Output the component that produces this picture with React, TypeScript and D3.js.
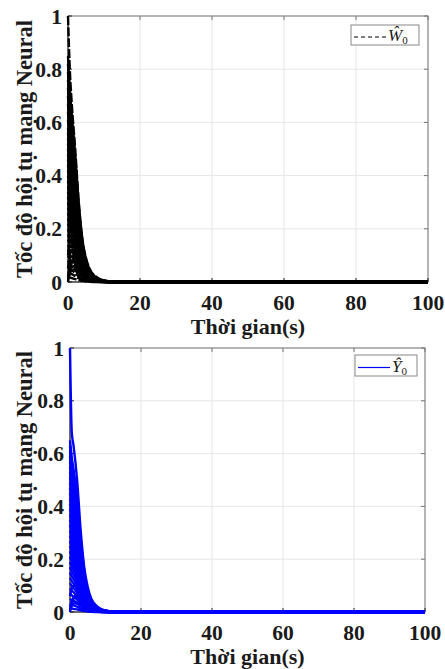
import * as d3 from "d3";

const FONT = '"Liberation Serif", "Times New Roman", serif';

const T_SAMPLES = [0, 0.5, 1, 2, 3, 4, 5, 6, 8, 10, 13, 100];
const X_TICKS = [0, 20, 40, 60, 80, 100];
const Y_TICKS = [0, 0.2, 0.4, 0.6, 0.8, 1];
const Y_TICK_LABELS = ["0", "0.2", "0.4", "0.6", "0.8", "1"];

// W0 weights, one row per neuron, sampled at T_SAMPLES
const W0_CURVES = [
  [1, 0.8, 0.68, 0.5, 0.3, 0.16, 0.09, 0.05, 0.018, 0.006, 0.001, 0],
  [0.85, 0.731, 0.638, 0.476, 0.289, 0.157, 0.085, 0.046, 0.015, 0.005, 0.001, 0],
  [0.82, 0.705, 0.615, 0.459, 0.279, 0.152, 0.082, 0.044, 0.015, 0.005, 0.001, 0],
  [0.79, 0.679, 0.593, 0.442, 0.269, 0.146, 0.079, 0.043, 0.014, 0.005, 0.001, 0],
  [0.76, 0.654, 0.57, 0.426, 0.258, 0.141, 0.076, 0.041, 0.014, 0.005, 0.001, 0],
  [0.73, 0.628, 0.548, 0.409, 0.248, 0.135, 0.073, 0.039, 0.013, 0.004, 0.001, 0],
  [0.7, 0.602, 0.525, 0.392, 0.238, 0.13, 0.07, 0.038, 0.013, 0.004, 0.001, 0],
  [0.67, 0.576, 0.503, 0.375, 0.228, 0.124, 0.067, 0.036, 0.012, 0.004, 0.001, 0],
  [0.64, 0.55, 0.48, 0.358, 0.218, 0.118, 0.064, 0.035, 0.012, 0.004, 0.001, 0],
  [0.61, 0.525, 0.458, 0.342, 0.207, 0.113, 0.061, 0.033, 0.011, 0.004, 0.001, 0],
  [0.58, 0.499, 0.435, 0.325, 0.197, 0.107, 0.058, 0.031, 0.01, 0.003, 0.001, 0],
  [0.56, 0.482, 0.42, 0.314, 0.19, 0.104, 0.056, 0.03, 0.01, 0.003, 0.001, 0],
  [0.54, 0.464, 0.405, 0.302, 0.184, 0.1, 0.054, 0.029, 0.01, 0.003, 0.001, 0],
  [0.52, 0.447, 0.39, 0.291, 0.177, 0.096, 0.052, 0.028, 0.009, 0.003, 0.001, 0],
  [0.5, 0.43, 0.375, 0.28, 0.17, 0.093, 0.05, 0.027, 0.009, 0.003, 0.001, 0],
  [0.48, 0.413, 0.36, 0.269, 0.163, 0.089, 0.048, 0.026, 0.009, 0.003, 0, 0],
  [0.46, 0.396, 0.345, 0.258, 0.156, 0.085, 0.046, 0.025, 0.008, 0.003, 0, 0],
  [0.44, 0.378, 0.33, 0.246, 0.15, 0.081, 0.044, 0.024, 0.008, 0.003, 0, 0],
  [0.42, 0.361, 0.315, 0.235, 0.143, 0.078, 0.042, 0.023, 0.008, 0.003, 0, 0],
  [0.4, 0.344, 0.3, 0.224, 0.136, 0.074, 0.04, 0.022, 0.007, 0.002, 0, 0],
  [0.38, 0.327, 0.285, 0.213, 0.129, 0.07, 0.038, 0.021, 0.007, 0.002, 0, 0],
  [0.36, 0.31, 0.27, 0.202, 0.122, 0.067, 0.036, 0.019, 0.006, 0.002, 0, 0],
  [0.34, 0.292, 0.255, 0.19, 0.116, 0.063, 0.034, 0.018, 0.006, 0.002, 0, 0],
  [0.32, 0.275, 0.24, 0.179, 0.109, 0.059, 0.032, 0.017, 0.006, 0.002, 0, 0],
  [0.3, 0.258, 0.225, 0.168, 0.102, 0.056, 0.03, 0.016, 0.005, 0.002, 0, 0],
  [0.28, 0.241, 0.21, 0.157, 0.095, 0.052, 0.028, 0.015, 0.005, 0.002, 0, 0],
  [0.26, 0.224, 0.195, 0.146, 0.088, 0.048, 0.026, 0.014, 0.005, 0.002, 0, 0],
  [0.24, 0.206, 0.18, 0.134, 0.082, 0.044, 0.024, 0.013, 0.004, 0.001, 0, 0],
  [0.22, 0.189, 0.165, 0.123, 0.075, 0.041, 0.022, 0.012, 0.004, 0.001, 0, 0],
  [0.2, 0.172, 0.15, 0.112, 0.068, 0.037, 0.02, 0.011, 0.004, 0.001, 0, 0],
  [0.18, 0.155, 0.135, 0.101, 0.061, 0.033, 0.018, 0.01, 0.003, 0.001, 0, 0],
  [0.16, 0.138, 0.12, 0.09, 0.054, 0.03, 0.016, 0.009, 0.003, 0.001, 0, 0],
  [0.14, 0.12, 0.105, 0.078, 0.048, 0.026, 0.014, 0.008, 0.003, 0.001, 0, 0],
  [0.12, 0.103, 0.09, 0.067, 0.041, 0.022, 0.012, 0.006, 0.002, 0.001, 0, 0],
  [0.1, 0.086, 0.075, 0.056, 0.034, 0.019, 0.01, 0.005, 0.002, 0.001, 0, 0],
  [0.08, 0.069, 0.06, 0.045, 0.027, 0.015, 0.008, 0.004, 0.001, 0, 0, 0],
  [0.06, 0.052, 0.045, 0.034, 0.02, 0.011, 0.006, 0.003, 0.001, 0, 0, 0],
  [0.04, 0.034, 0.03, 0.022, 0.014, 0.007, 0.004, 0.002, 0.001, 0, 0, 0],
  [0.02, 0.017, 0.015, 0.011, 0.007, 0.004, 0.002, 0.001, 0, 0, 0, 0],
  [0.02, 0.06, 0.08, 0.08, 0.055, 0.033, 0.018, 0.01, 0.003, 0.001, 0, 0],
  [0.1, 0.15, 0.16, 0.13, 0.085, 0.05, 0.028, 0.015, 0.005, 0.001, 0, 0],
  [0.05, 0.1, 0.12, 0.1, 0.065, 0.038, 0.021, 0.011, 0.004, 0.001, 0, 0],
  [0.01, 0.03, 0.045, 0.048, 0.036, 0.022, 0.013, 0.007, 0.002, 0, 0, 0],
  [0, 0.04, 0.07, 0.095, 0.075, 0.048, 0.027, 0.015, 0.005, 0.001, 0, 0],
];

// Y0 outputs
const Y0_CURVES = [
  [1, 0.68, 0.63, 0.5, 0.31, 0.17, 0.095, 0.05, 0.017, 0.005, 0.001, 0],
  [0.65, 0.585, 0.54, 0.436, 0.28, 0.156, 0.081, 0.044, 0.014, 0.005, 0.001, 0],
  [0.63, 0.567, 0.523, 0.422, 0.271, 0.151, 0.079, 0.042, 0.014, 0.004, 0.001, 0],
  [0.61, 0.549, 0.506, 0.409, 0.262, 0.146, 0.076, 0.041, 0.013, 0.004, 0.001, 0],
  [0.59, 0.531, 0.49, 0.395, 0.254, 0.142, 0.074, 0.04, 0.013, 0.004, 0.001, 0],
  [0.57, 0.513, 0.473, 0.382, 0.245, 0.137, 0.071, 0.038, 0.013, 0.004, 0.001, 0],
  [0.55, 0.495, 0.457, 0.369, 0.237, 0.132, 0.069, 0.037, 0.012, 0.004, 0.001, 0],
  [0.53, 0.477, 0.44, 0.355, 0.228, 0.127, 0.066, 0.036, 0.012, 0.004, 0.001, 0],
  [0.51, 0.459, 0.423, 0.342, 0.219, 0.122, 0.064, 0.034, 0.011, 0.004, 0.001, 0],
  [0.49, 0.441, 0.407, 0.328, 0.211, 0.118, 0.061, 0.033, 0.011, 0.003, 0.001, 0],
  [0.47, 0.423, 0.39, 0.315, 0.202, 0.113, 0.059, 0.031, 0.01, 0.003, 0.001, 0],
  [0.45, 0.405, 0.374, 0.302, 0.194, 0.108, 0.056, 0.03, 0.01, 0.003, 0.001, 0],
  [0.43, 0.387, 0.357, 0.288, 0.185, 0.103, 0.054, 0.029, 0.009, 0.003, 0.001, 0],
  [0.41, 0.369, 0.34, 0.275, 0.176, 0.098, 0.051, 0.027, 0.009, 0.003, 0.001, 0],
  [0.39, 0.351, 0.324, 0.261, 0.168, 0.094, 0.049, 0.026, 0.009, 0.003, 0.001, 0],
  [0.37, 0.333, 0.307, 0.248, 0.159, 0.089, 0.046, 0.025, 0.008, 0.003, 0.001, 0],
  [0.35, 0.315, 0.291, 0.235, 0.151, 0.084, 0.044, 0.023, 0.008, 0.002, 0.001, 0],
  [0.33, 0.297, 0.274, 0.221, 0.142, 0.079, 0.041, 0.022, 0.007, 0.002, 0, 0],
  [0.31, 0.279, 0.257, 0.208, 0.133, 0.074, 0.039, 0.021, 0.007, 0.002, 0, 0],
  [0.29, 0.261, 0.241, 0.194, 0.125, 0.07, 0.036, 0.019, 0.006, 0.002, 0, 0],
  [0.27, 0.243, 0.224, 0.181, 0.116, 0.065, 0.034, 0.018, 0.006, 0.002, 0, 0],
  [0.25, 0.225, 0.208, 0.168, 0.108, 0.06, 0.031, 0.017, 0.006, 0.002, 0, 0],
  [0.23, 0.207, 0.191, 0.154, 0.099, 0.055, 0.029, 0.015, 0.005, 0.002, 0, 0],
  [0.21, 0.189, 0.174, 0.141, 0.09, 0.05, 0.026, 0.014, 0.005, 0.001, 0, 0],
  [0.19, 0.171, 0.158, 0.127, 0.082, 0.046, 0.024, 0.013, 0.004, 0.001, 0, 0],
  [0.17, 0.153, 0.141, 0.114, 0.073, 0.041, 0.021, 0.011, 0.004, 0.001, 0, 0],
  [0.15, 0.135, 0.125, 0.101, 0.065, 0.036, 0.019, 0.01, 0.003, 0.001, 0, 0],
  [0.13, 0.117, 0.108, 0.087, 0.056, 0.031, 0.016, 0.009, 0.003, 0.001, 0, 0],
  [0.11, 0.099, 0.091, 0.074, 0.047, 0.026, 0.014, 0.007, 0.002, 0.001, 0, 0],
  [0.09, 0.081, 0.075, 0.06, 0.039, 0.022, 0.011, 0.006, 0.002, 0.001, 0, 0],
  [0.07, 0.063, 0.058, 0.047, 0.03, 0.017, 0.009, 0.005, 0.002, 0, 0, 0],
  [0.05, 0.045, 0.042, 0.034, 0.022, 0.012, 0.006, 0.003, 0.001, 0, 0, 0],
  [0.03, 0.027, 0.025, 0.02, 0.013, 0.007, 0.004, 0.002, 0.001, 0, 0, 0],
  [0.015, 0.014, 0.012, 0.01, 0.006, 0.004, 0.002, 0.001, 0, 0, 0, 0],
  [0.02, 0.04, 0.055, 0.058, 0.042, 0.025, 0.014, 0.007, 0.002, 0, 0, 0],
  [0.06, 0.09, 0.1, 0.09, 0.06, 0.035, 0.019, 0.01, 0.003, 0.001, 0, 0],
  [0.01, 0.025, 0.032, 0.032, 0.024, 0.015, 0.008, 0.004, 0.001, 0, 0, 0],
  [0, 0.03, 0.05, 0.07, 0.055, 0.034, 0.019, 0.01, 0.003, 0.001, 0, 0],
];

type PanelProps = {
  top: number;
  left: number;
  right: number;
  bottom: number;
  curves: number[][];
  color: string;
  dashed: boolean;
  legendBox: [number, number, number, number];
  legendSymbol: string;
};

function Panel({ top, left, right, bottom, curves, color, dashed, legendBox, legendSymbol }: PanelProps) {
  const x = d3.scaleLinear().domain([0, 100]).range([left, right]);
  const y = d3.scaleLinear().domain([0, 1]).range([bottom, top]);
  const line = d3
    .line<number>()
    .x((_, i) => x(T_SAMPLES[i]))
    .y((v) => y(v))
    .curve(d3.curveMonotoneX);

  const [lx, ly, lw, lh] = legendBox;
  const midY = ly + lh / 2 + 2;

  return (
    <g>
      {X_TICKS.map((t) => (
        <line key={"gx" + t} x1={x(t)} x2={x(t)} y1={top} y2={bottom} stroke="#e6e6e6" strokeWidth={1} />
      ))}
      {Y_TICKS.map((t) => (
        <line key={"gy" + t} x1={left} x2={right} y1={y(t)} y2={y(t)} stroke="#e6e6e6" strokeWidth={1} />
      ))}

      <rect x={left} y={top} width={right - left} height={bottom - top} fill="none" stroke="#777" strokeWidth={1} />
      <line x1={left} x2={left} y1={top} y2={bottom} stroke="#222" strokeWidth={1} />
      <line x1={left} x2={right} y1={bottom} y2={bottom} stroke="#222" strokeWidth={1} />
      {X_TICKS.map((t) => (
        <g key={"tx" + t}>
          <line x1={x(t)} x2={x(t)} y1={bottom} y2={bottom - 4} stroke="#222" />
          <line x1={x(t)} x2={x(t)} y1={top} y2={top + 4} stroke="#777" />
        </g>
      ))}
      {Y_TICKS.map((t) => (
        <g key={"ty" + t}>
          <line x1={left} x2={left + 4} y1={y(t)} y2={y(t)} stroke="#222" />
          <line x1={right} x2={right - 4} y1={y(t)} y2={y(t)} stroke="#777" />
        </g>
      ))}

      <g
        fill="none"
        stroke={color}
        strokeWidth={2.4}
        strokeLinejoin="round"
        strokeDasharray={dashed ? "9,2" : undefined}
      >
        {curves.map((c, i) => (
          <path key={i} d={line(c) ?? ""} />
        ))}
      </g>

      <g fontFamily={FONT} fontWeight="bold" fill="#1a1a1a">
        {X_TICKS.map((t) => (
          <text key={"lx" + t} x={x(t)} y={bottom + 27.5} textAnchor="middle" fontSize={21.5}>
            {t}
          </text>
        ))}
        {Y_TICKS.map((t, i) => (
          <text key={"ly" + t} x={left - 6} y={y(t) + 7.5} textAnchor="end" fontSize={21.5}>
            {Y_TICK_LABELS[i]}
          </text>
        ))}
        <text x={(left + right) / 2} y={bottom + 52} textAnchor="middle" fontSize={22}>
          Thời gian(s)
        </text>
        <text
          transform={`translate(32,${(top + bottom) / 2}) rotate(-90)`}
          textAnchor="middle"
          fontSize={22.5}
        >
          Tốc độ hội tụ mạng Neural
        </text>
      </g>

      <rect x={lx} y={ly} width={lw} height={lh} fill="#fff" stroke="#888" strokeWidth={1} />
      <line
        x1={lx + 3}
        x2={lx + 35}
        y1={midY}
        y2={midY}
        stroke={color}
        strokeWidth={1.2}
        strokeDasharray={dashed ? "4,3" : undefined}
      />
      <text x={lx + 37} y={midY + 4} fontFamily={FONT} fontSize={17} fill="#1a1a1a">
        <tspan fontStyle="italic">{legendSymbol}</tspan>
        <tspan fontSize={11} dy={3}>0</tspan>
      </text>
    </g>
  );
}

export default function App() {
  return (
    <svg
      width={445}
      height={669}
      viewBox="0 0 445 669"
      style={{ position: "absolute", left: 0, top: 0, background: "#fff" }}
    >
      <rect width={445} height={669} fill="#fff" />
      <Panel
        top={16}
        left={68}
        right={428}
        bottom={282}
        curves={W0_CURVES}
        color="#000"
        dashed={true}
        legendBox={[351, 25, 68, 20]}
        legendSymbol="Ŵ"
      />
      <Panel
        top={348}
        left={70}
        right={425}
        bottom={612}
        curves={Y0_CURVES}
        color="#0000ff"
        dashed={false}
        legendBox={[355, 355, 62, 21]}
        legendSymbol="Ŷ"
      />
    </svg>
  );
}
